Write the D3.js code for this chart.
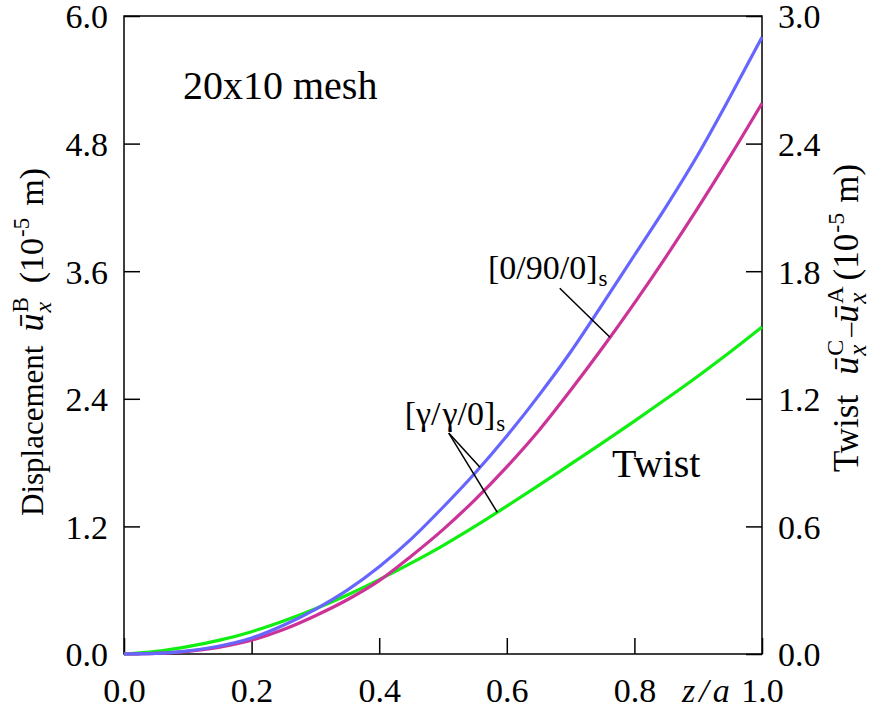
<!DOCTYPE html>
<html>
<head>
<meta charset="utf-8">
<script src="https://cdn.jsdelivr.net/npm/d3@7"></script>
<style>
  html, body { margin: 0; padding: 0; background: #fff; }
  svg { display: block; font-family: "Liberation Serif", "Times New Roman", serif; }
</style>
</head>
<body>
<svg id="chart" width="878" height="708"></svg>
<script>
// Position along the beam, z/a
const zA = [0, 0.05, 0.10, 0.15, 0.20, 0.25, 0.30, 0.35, 0.40, 0.45, 0.50,
            0.55, 0.60, 0.65, 0.70, 0.75, 0.80, 0.85, 0.90, 0.95, 1.00];
// Displacement u_x^B (1e-5 m), [γ/γ/0]s laminate
const dispGG = [0, 0.005, 0.03, 0.075, 0.15, 0.27, 0.42, 0.60, 0.82, 1.08, 1.38,
                1.70, 2.05, 2.43, 2.84, 3.29, 3.75, 4.21, 4.70, 5.24, 5.80];
// Displacement u_x^B (1e-5 m), [0/90/0]s laminate
const disp090 = [0, 0.005, 0.025, 0.065, 0.13, 0.23, 0.36, 0.51, 0.69, 0.92, 1.17,
                 1.45, 1.76, 2.10, 2.48, 2.88, 3.30, 3.74, 4.20, 4.68, 5.18];
// Twist u_x^C - u_x^A (1e-5 m), [γ/γ/0]s laminate
const twistGG = [0, 0.0125, 0.035, 0.065, 0.105, 0.155, 0.2125, 0.2775, 0.35, 0.4275, 0.51,
                 0.60, 0.695, 0.7925, 0.8925, 0.9925, 1.095, 1.20, 1.3075, 1.42, 1.5375];

const xTicks = [0, 0.2, 0.4, 0.6, 0.8, 1.0];
const yLeftTicks = [0, 1.2, 2.4, 3.6, 4.8, 6.0];
const yRightTicks = [0, 0.6, 1.2, 1.8, 2.4, 3.0];

const svg = d3.select("#chart");
const L = 124, R = 762, T = 16, B = 654;

const x = d3.scaleLinear().domain([0, 1]).range([L, R]);
const yL = d3.scaleLinear().domain([0, 6]).range([B, T]);
const yR = d3.scaleLinear().domain([0, 3]).range([B, T]);

const fmt = d3.format(".1f");

// Axes with inward ticks
const gx = svg.append("g").attr("transform", `translate(0,${B})`)
  .call(d3.axisBottom(x).tickValues(xTicks).tickSize(-16).tickPadding(0).tickFormat(fmt));
const gyl = svg.append("g").attr("transform", `translate(${L},0)`)
  .call(d3.axisLeft(yL).tickValues(yLeftTicks).tickSize(-16).tickPadding(16).tickFormat(fmt));
const gyr = svg.append("g").attr("transform", `translate(${R},0)`)
  .call(d3.axisRight(yR).tickValues(yRightTicks).tickSize(-16).tickPadding(16).tickFormat(fmt));

[gx, gyl, gyr].forEach(g => {
  g.select(".domain").remove();
  g.selectAll(".tick line").attr("stroke", "#000").attr("stroke-width", 1.5);
  g.selectAll(".tick text")
    .attr("fill", "#000")
    .attr("font-size", 34)
    .attr("font-family", "Liberation Serif, Times New Roman, serif");
});
gx.selectAll(".tick text").attr("y", 48).attr("dy", null);
gyl.selectAll(".tick text").attr("dy", "0.35em");
gyr.selectAll(".tick text").attr("dy", "0.35em");

// Plot frame
svg.append("rect")
  .attr("x", L).attr("y", T).attr("width", R - L).attr("height", B - T)
  .attr("fill", "none").attr("stroke", "#000").attr("stroke-width", 1.5);

// Curves
const lineL = d3.line().x((d, i) => x(zA[i])).y(d => yL(d)).curve(d3.curveMonotoneX);
const lineR = d3.line().x((d, i) => x(zA[i])).y(d => yR(d)).curve(d3.curveMonotoneX);

svg.append("path").datum(twistGG).attr("d", lineR)
  .attr("fill", "none").attr("stroke", "#11ee11").attr("stroke-width", 3.2);
svg.append("path").datum(disp090).attr("d", lineL)
  .attr("fill", "none").attr("stroke", "#cc3399").attr("stroke-width", 3.2);
svg.append("path").datum(dispGG).attr("d", lineL)
  .attr("fill", "none").attr("stroke", "#6666ff").attr("stroke-width", 3.2);

// Lay out a run of text pieces along a baseline (supports stacked sup/sub)
function rich(parent, pieces) {
  const g = parent.append("g");
  let cx = 0, prevStart = 0;
  pieces.forEach(p => {
    const t = g.append("text")
      .attr("font-size", p.fs)
      .attr("font-style", p.it ? "italic" : "normal")
      .attr("y", p.dy || 0)
      .attr("fill", "#000")
      .text(p.t);
    const w = t.node().getComputedTextLength();
    if (p.stack) {
      t.attr("x", prevStart);
      cx = Math.max(cx, prevStart + w);
    } else {
      cx += (p.gap || 0);
      t.attr("x", cx);
      prevStart = cx;
      cx += w;
    }
  });
  return { g, width: cx };
}

// Left axis title (starts at the bottom, reads upward)
{
  const outer = svg.append("g").attr("transform", "translate(43,516) rotate(-90)");
  rich(outer, [
    { t: "Displacement", fs: 31 },
    { t: "\u016B", fs: 36, it: true, gap: 14 },
    { t: "B", fs: 23, dy: -15, gap: 1 },
    { t: "x", fs: 24, it: true, dy: 8, stack: true },
    { t: "(10", fs: 34, gap: 14 },
    { t: "-5", fs: 23, dy: -14, gap: 1 },
    { t: "m)", fs: 34, gap: 12 }
  ]);
}

// Right axis title
{
  const outer = svg.append("g").attr("transform", "translate(858,318) rotate(-90)");
  const r = rich(outer, [
    { t: "Twist", fs: 35 },
    { t: "\u016B", fs: 36, it: true, gap: 20 },
    { t: "C", fs: 24, dy: -15, gap: 1 },
    { t: "x", fs: 25, it: true, dy: 8, stack: true },
    { t: "\u2013", fs: 28, gap: 3 },
    { t: "\u016B", fs: 36, it: true, gap: 0 },
    { t: "A", fs: 24, dy: -15, gap: 1 },
    { t: "x", fs: 25, it: true, dy: 8, stack: true },
    { t: "(10", fs: 35, gap: 6 },
    { t: "-5", fs: 24, dy: -14, gap: 1 },
    { t: "m)", fs: 35, gap: 10 }
  ]);
  r.g.attr("transform", `translate(${-r.width / 2},0)`);
}

// x-axis title
svg.append("text")
  .attr("x", 682).attr("y", 702)
  .attr("font-size", 34).attr("font-style", "italic")
  .attr("letter-spacing", 4)
  .attr("fill", "#000")
  .text("z/a");

// Interpolated value on a series at position z
function at(series, z) {
  return d3.scaleLinear().domain(zA).range(series)(z);
}

// Annotations
svg.append("text")
  .attr("x", x(0.0925)).attr("y", yL(5.22))
  .attr("font-size", 40).attr("fill", "#000")
  .text("20x10 mesh");

svg.append("text")
  .attr("x", x(0.765)).attr("y", yL(1.665))
  .attr("font-size", 40).attr("fill", "#000")
  .text("Twist");

// [0/90/0]s label and leader
{
  const g = svg.append("g").attr("transform", `translate(${x(0.5705)},${yL(3.527)})`);
  rich(g, [
    { t: "[0/90/0]", fs: 34 },
    { t: "s", fs: 23, dy: 7, gap: 1 }
  ]);
  const z1 = 0.7617;
  svg.append("line")
    .attr("x1", x(0.683)).attr("y1", yL(3.44))
    .attr("x2", x(z1)).attr("y2", yL(at(disp090, z1)))
    .attr("stroke", "#000").attr("stroke-width", 1.5);
}

// [γ/γ/0]s label and leaders
{
  const g = svg.append("g").attr("transform", `translate(${x(0.440)},${yL(2.154)})`);
  rich(g, [
    { t: "[\u03B3/", fs: 34 },
    { t: "\u03B3/0]", fs: 34, gap: 2 },
    { t: "s", fs: 23, dy: 6, gap: 1 }
  ]);
  const sx = x(0.509), sy = yL(2.078);
  const zb = 0.558, zg = 0.585;
  svg.append("line")
    .attr("x1", sx).attr("y1", sy)
    .attr("x2", x(zb)).attr("y2", yL(at(dispGG, zb)))
    .attr("stroke", "#000").attr("stroke-width", 1.5);
  svg.append("line")
    .attr("x1", sx).attr("y1", sy)
    .attr("x2", x(zg)).attr("y2", yR(at(twistGG, zg)))
    .attr("stroke", "#000").attr("stroke-width", 1.5);
}
</script>
</body>
</html>
